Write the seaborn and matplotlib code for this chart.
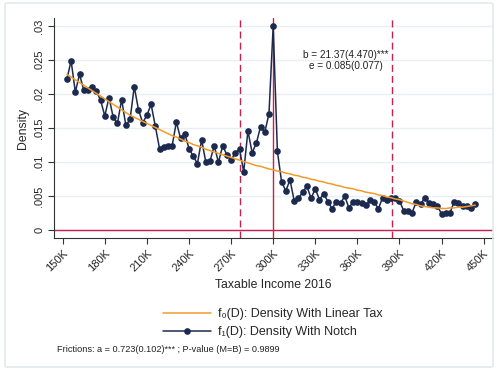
import numpy as np
import seaborn as sns
import matplotlib.pyplot as plt
from matplotlib.patches import FancyBboxPatch

# income bins (in thousands), one point every 3K
income = np.arange(153, 445, 3)

# f1(D): observed density with the notch
notch = [0.0222, 0.0249, 0.0203, 0.0229, 0.0206, 0.0206, 0.0211, 0.0204, 0.0191, 0.0168,
         0.0195, 0.0166, 0.0157, 0.0192, 0.0154, 0.0163, 0.0211, 0.0177, 0.0158, 0.0169,
         0.0185, 0.0153, 0.0120, 0.0122, 0.0124, 0.0124, 0.0159, 0.0135, 0.0142, 0.0120,
         0.0109, 0.0098, 0.0133, 0.0100, 0.0102, 0.0124, 0.0100, 0.0124, 0.0111, 0.0103,
         0.0114, 0.0119, 0.0086, 0.0146, 0.0114, 0.0128, 0.0152, 0.0144, 0.0171, 0.0300,
         0.0116, 0.0071, 0.0058, 0.0074, 0.0043, 0.0047, 0.0056, 0.0065, 0.0047, 0.0061,
         0.0045, 0.0054, 0.0042, 0.0032, 0.0042, 0.0040, 0.0050, 0.0033, 0.0042, 0.0041,
         0.0040, 0.0037, 0.0044, 0.0041, 0.0032, 0.0048, 0.0045, 0.0048, 0.0048, 0.0043,
         0.0029, 0.0029, 0.0026, 0.0042, 0.0038, 0.0048, 0.0040, 0.0038, 0.0036, 0.0024,
         0.0026, 0.0026, 0.0042, 0.0040, 0.0035, 0.0036, 0.0033, 0.0039]

# f0(D): counterfactual density with a linear tax
linear = [0.0229, 0.0225, 0.0221, 0.0217, 0.0213, 0.0209, 0.0205, 0.0201, 0.0197, 0.0193,
          0.0189, 0.0185, 0.0181, 0.0177, 0.0173, 0.0169, 0.0166, 0.0163, 0.0160, 0.0157,
          0.0154, 0.0151, 0.0148, 0.0145, 0.0142, 0.0139, 0.0137, 0.0134, 0.0131, 0.0129,
          0.0126, 0.0124, 0.0122, 0.0119, 0.0117, 0.0115, 0.0113, 0.0111, 0.0109, 0.0107,
          0.0105, 0.0103, 0.0101, 0.0099, 0.0097, 0.0095, 0.0094, 0.0092, 0.0090, 0.0089,
          0.0087, 0.0086, 0.0084, 0.0083, 0.0081, 0.0080, 0.0078, 0.0077, 0.0075, 0.0074,
          0.0072, 0.0071, 0.0069, 0.0068, 0.0066, 0.0065, 0.0063, 0.0062, 0.0061, 0.0059,
          0.0058, 0.0056, 0.0055, 0.0054, 0.0052, 0.0051, 0.0049, 0.0048, 0.0046, 0.0045,
          0.0043, 0.0041, 0.0039, 0.0038, 0.0036, 0.0035, 0.0034, 0.0033, 0.0033, 0.0032,
          0.0032, 0.0033, 0.0033, 0.0034, 0.0034, 0.0035, 0.0036, 0.0037]

x_ticks = [150, 180, 210, 240, 270, 300, 330, 360, 390, 420, 450]
x_tick_labels = [f"{t}K" for t in x_ticks]
y_ticks = [0, 0.005, 0.01, 0.015, 0.02, 0.025, 0.03]
y_tick_labels = ["0", ".005", ".01", ".015", ".02", ".025", ".03"]

notch_point = 300
lower_bound = 276
upper_bound = 384.5

navy = "#1c2a4f"
orange = "#f39a2a"
red = "#c81f4c"

sns.set_theme(style="white")
plt.rcParams["font.family"] = ["Liberation Sans", "DejaVu Sans"]

fig = plt.figure(figsize=(4.98, 3.70), dpi=100)
fig.patch.set_facecolor("white")
ax = fig.add_axes([54 / 498, 1 - 238.3 / 370, (492.5 - 54) / 498, (238.3 - 18.3) / 370])

# outer graph region frame
fig.patches.append(FancyBboxPatch((5 / 498, 3 / 370), 488 / 498, 364 / 370,
                                  boxstyle="round,pad=0,rounding_size=0.004",
                                  transform=fig.transFigure, fill=False,
                                  edgecolor="#e1eaec", linewidth=1.2))

sns.lineplot(x=income, y=linear, color=orange, linewidth=1.1,
             label="f\u2080(D): Density With Linear Tax", ax=ax, zorder=4)
sns.lineplot(x=income, y=notch, color=navy, linewidth=1.1, marker="o",
             markersize=4.8, markeredgewidth=0, markeredgecolor=navy,
             label="f\u2081(D): Density With Notch", ax=ax, zorder=3)

ax.axhline(0, color=red, linewidth=1.0, zorder=2)
ax.axvline(notch_point, color=red, linewidth=1.0, zorder=2)
ax.axvline(lower_bound, color=red, linewidth=1.0, linestyle=(0, (5, 3)), zorder=2)
ax.axvline(upper_bound, color=red, linewidth=1.0, linestyle=(0, (5, 3)), zorder=2)

ax.set_xlim(143.8, 456.3)
ax.set_ylim(-0.00117, 0.03113)

ax.set_yticks(y_ticks)
ax.set_yticklabels(y_tick_labels, rotation=90, va="center", fontsize=8)
ax.set_xticks(x_ticks)
ax.set_xticklabels(x_tick_labels, rotation=45, ha="right", rotation_mode="anchor",
                   fontsize=8)
ax.tick_params(axis="both", direction="out", length=4, width=0.8, color="#333333",
               left=True, bottom=True, pad=3)

ax.grid(axis="y", color="#e6eff1", linewidth=1.0)
ax.set_axisbelow(True)
for side in ["top", "right"]:
    ax.spines[side].set_visible(False)
for side in ["left", "bottom"]:
    ax.spines[side].set_color("#333333")
    ax.spines[side].set_linewidth(0.8)

ax.set_xlabel("Taxable Income 2016", fontsize=8.8, labelpad=4)
ax.set_ylabel("Density", fontsize=8.8, labelpad=4)

ax.text(351.5, 0.0249, "b = 21.37(4.470)***\ne = 0.085(0.077)", ha="center",
        va="center", fontsize=7.2, linespacing=1.1, color="#222222")

ax.legend(loc="upper center", bbox_to_anchor=(273 / 498, 1 - 297 / 370),
          bbox_transform=fig.transFigure, frameon=False, fontsize=9,
          handlelength=3.8, handletextpad=0.6, labelspacing=0.5)

fig.text(57 / 498, 1 - 349 / 370,
         "Frictions: a = 0.723(0.102)*** ; P-value (M=B) = 0.9899",
         fontsize=6.6, va="center", ha="left", color="#222222")

fig.savefig("out.png", dpi=100)
